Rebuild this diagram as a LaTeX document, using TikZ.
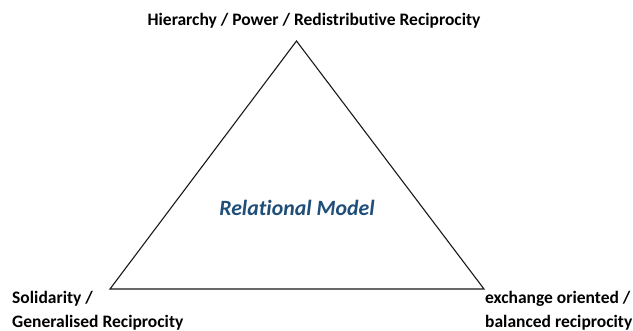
\documentclass[tikz,border=0pt]{standalone}
\usepackage{fontspec}
\setmainfont[Ligatures=NoCommon]{Carlito}
\begin{document}
\begin{tikzpicture}[x=1pt,y=-1pt,
  label text/.style={font=\bfseries\fontsize{17.5}{23}\selectfont, inner sep=0pt, align=left},
  model text/.style={font=\bfseries\itshape\fontsize{21.8}{24}\selectfont, text=modelblue, inner sep=0pt},
  edge line/.style={line width=1.1pt, draw=black!90, line join=miter}]
\definecolor{modelblue}{HTML}{1F4E79}
\useasboundingbox (0,0) rectangle (633,330);
% triangle corners
\coordinate (apex) at (296.5,41);
\coordinate (left) at (110,289);
\coordinate (right) at (484,289);
\draw[edge line] (apex) -- (right) -- (left) -- cycle;
% labels
\node[label text, anchor=base] (top) at (314,25) {Hierarchy / Power / Redistributive Reciprocity};
\node[label text, anchor=base west] (sol1) at (12,303) {Solidarity /};
\node[label text, anchor=base west] (sol2) at (12,327) {Generalised Reciprocity};
\node[label text, anchor=base west] (ex1) at (485,303) {exchange oriented /};
\node[label text, anchor=base west] (ex2) at (485,327) {balanced reciprocity};
\node[model text, anchor=base] (model) at (297,215) {Relational Model};
\end{tikzpicture}
\end{document}
